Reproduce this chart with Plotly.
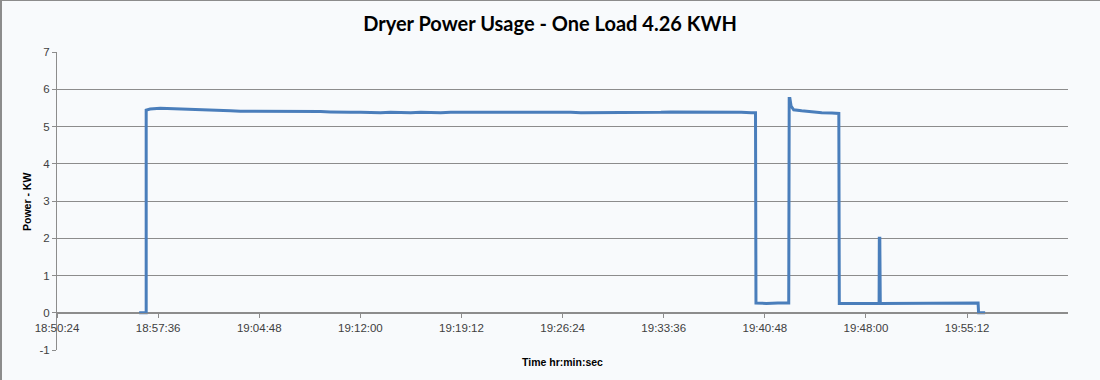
import pandas as pd
import plotly.graph_objects as go

start_time = "2013-01-01 18:50:24"

# elapsed seconds from 18:50:24 and power in kW
elapsed_s = [351, 381, 381, 398, 441, 484, 527, 569, 612, 655, 698, 741, 783,
             826, 869, 912, 954, 997, 1040, 1083, 1126, 1168, 1211, 1254, 1297,
             1340, 1382, 1425, 1468, 1511, 1554, 1596, 1639, 1682, 1725, 1768,
             1810, 1853, 1896, 1939, 1981, 2024, 2067, 2110, 2153, 2195, 2238,
             2281, 2324, 2367, 2409, 2452, 2495, 2538, 2580, 2623, 2666, 2709,
             2752, 2794, 2837, 2880, 2923, 2966, 2984,
             2986, 3030, 3080, 3126,
             3128, 3131, 3136, 3147, 3181, 3224, 3267, 3310, 3340,
             3342, 3400, 3460, 3512, 3513, 3515, 3517,
             3600, 3700, 3800, 3900, 3935, 3937, 3965]
power_kw = [0.0, 0.0, 5.44, 5.47, 5.49, 5.48, 5.48, 5.47, 5.46, 5.45, 5.45, 5.42,
            5.41, 5.41, 5.42, 5.41, 5.41, 5.42, 5.42, 5.41, 5.40, 5.39, 5.38,
            5.38, 5.38, 5.37, 5.37, 5.38, 5.37, 5.37, 5.38, 5.37, 5.37, 5.38,
            5.38, 5.39, 5.39, 5.39, 5.40, 5.40, 5.40, 5.39, 5.39, 5.39, 5.38,
            5.38, 5.37, 5.37, 5.36, 5.37, 5.37, 5.37, 5.38, 5.38, 5.38, 5.39,
            5.39, 5.39, 5.40, 5.39, 5.39, 5.38, 5.38, 5.37, 5.37,
            0.26, 0.25, 0.26, 0.26,
            5.75, 5.75, 5.55, 5.45, 5.42, 5.39, 5.37, 5.36, 5.35,
            0.25, 0.25, 0.25, 0.25, 2.0, 2.0, 0.25,
            0.25, 0.26, 0.26, 0.26, 0.26, 0.0, 0.0]

y_ticks = [-1, 0, 1, 2, 3, 4, 5, 6, 7]
y_tick_labels = ["-1", "0", "1", "2", "3", "4", "5", "6", "7"]

t0 = pd.Timestamp(start_time)
times = [t0 + pd.Timedelta(seconds=s) for s in elapsed_s]

L, R, T, B = 57, 32, 52, 30
W, H = 1100, 380
pw, ph = W - L - R, H - T - B
ymin, ymax = -1, 7
zero_frac = (0 - ymin) / (ymax - ymin)

fig = go.Figure()
fig.add_trace(go.Scatter(x=times, y=power_kw, mode="lines",
                         line=dict(color="#4A7EBB", width=3), hoverinfo="x+y"))

bg = "#F8FAFC"
fig.update_layout(
    width=W, height=H,
    margin=dict(l=L, r=R, t=T, b=B, autoexpand=False),
    paper_bgcolor=bg, plot_bgcolor=bg,
    showlegend=False,
    title=dict(text="<b>Dryer Power Usage - One Load 4.26 KWH</b>",
               x=0.5, xref="container", xanchor="center",
               y=1 - 24 / H, yref="container", yanchor="middle",
               font=dict(family="Lato", size=20, color="#000000")),
    xaxis=dict(
        type="date", automargin=False,
        range=[t0, t0 + pd.Timedelta(seconds=4319)],
        tick0=t0, dtick=432000, tickformat="%H:%M:%S",
        showgrid=False, zeroline=False,
        showline=True, linecolor="#8C8C8C", linewidth=1,
        ticks="outside", ticklen=4, tickcolor="#8C8C8C",
        anchor="free", position=zero_frac,
        tickfont=dict(family="Liberation Sans", size=11.5, color="#404040"),
    ),
    yaxis=dict(
        automargin=False,
        range=[ymin, ymax], tickvals=y_ticks, ticktext=y_tick_labels,
        showgrid=True, gridcolor="#8C8C8C", gridwidth=1,
        zeroline=False,
        showline=True, linecolor="#8C8C8C", linewidth=1,
        ticks="outside", ticklen=4, tickcolor="#8C8C8C",
        tickfont=dict(family="Liberation Sans", size=11.5, color="#404040"),
    ),
    annotations=[
        dict(text="<b>Power - KW</b>", textangle=-90, showarrow=False,
             xref="paper", yref="paper",
             x=(27 - L) / pw, y=(H - B - 202) / ph,
             xanchor="center", yanchor="middle",
             font=dict(family="Liberation Sans", size=10.5, color="#000000")),
        dict(text="<b>Time hr:min:sec</b>", showarrow=False,
             xref="paper", yref="paper",
             x=(562 - L) / pw, y=(H - B - 362) / ph,
             xanchor="center", yanchor="middle",
             font=dict(family="Liberation Sans", size=10.5, color="#000000")),
    ],
    shapes=[
        dict(type="line", xref="paper", yref="paper",
             x0=(1 - L) / pw, x1=(1 - L) / pw,
             y0=(H - B - 0) / ph, y1=(H - B - 380) / ph,
             line=dict(color="#8C8C8C", width=2)),
        dict(type="line", xref="paper", yref="paper",
             x0=(0 - L) / pw, x1=(1100 - L) / pw,
             y0=(H - B - 0.5) / ph, y1=(H - B - 0.5) / ph,
             line=dict(color="#8C8C8C", width=1)),
    ],
)

fig.write_html("out.html",
               config={"displayModeBar": False},
               post_script="document.body.style.margin='0';document.body.style.overflow='hidden';")
